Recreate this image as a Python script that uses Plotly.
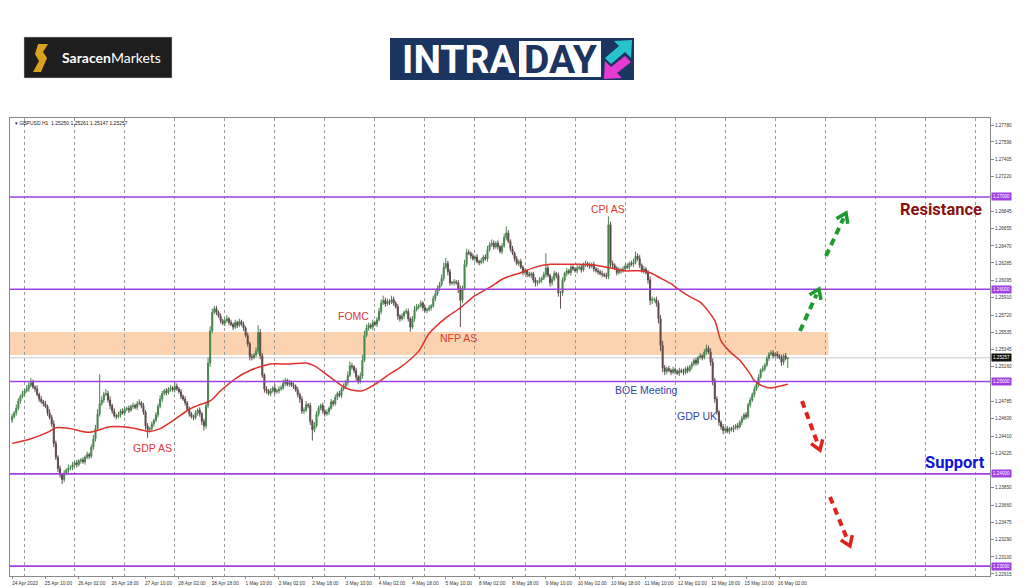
import math
import plotly.graph_objects as go

# ---------------- data ----------------
TIME_LABELS = ["24 Apr 2023", "25 Apr 10:00", "26 Apr 02:00", "26 Apr 18:00", "27 Apr 10:00",
               "28 Apr 02:00", "28 Apr 18:00", "1 May 10:00", "2 May 02:00", "2 May 18:00",
               "3 May 10:00", "4 May 02:00", "4 May 18:00", "5 May 10:00", "8 May 02:00",
               "8 May 18:00", "9 May 10:00", "10 May 02:00", "10 May 18:00", "11 May 10:00",
               "12 May 02:00", "12 May 18:00", "15 May 10:00", "16 May 02:00"]
LABEL_EVERY = 16      # bars between time labels
FIRST_MIDNIGHT = 6    # bar index of 25 Apr 00:00
BARS_PER_DAY = 24

FIRST_OPEN = 1.2458
CLOSE = [
    1.2462, 1.2466, 1.2471, 1.2479, 1.2484, 1.2487, 1.2490, 1.2492, 1.2496, 1.2499,
    1.2494, 1.2492, 1.2486, 1.2481, 1.2478, 1.2476, 1.2473, 1.2466, 1.2461, 1.2454,
    1.2433, 1.2418, 1.2406, 1.2399, 1.2394, 1.2401, 1.2404, 1.2406, 1.2407, 1.2410,
    1.2412, 1.2410, 1.2414, 1.2415, 1.2413, 1.2418, 1.2421, 1.2419, 1.2429, 1.2438,
    1.2449, 1.2465, 1.2476, 1.2480, 1.2486, 1.2487, 1.2480, 1.2474, 1.2468, 1.2463,
    1.2462, 1.2464, 1.2468, 1.2466, 1.2470, 1.2471, 1.2469, 1.2473, 1.2474, 1.2472,
    1.2476, 1.2477, 1.2474, 1.2467, 1.2452, 1.2448, 1.2449, 1.2454, 1.2458, 1.2464,
    1.2473, 1.2481, 1.2487, 1.2490, 1.2488, 1.2492, 1.2493, 1.2491, 1.2495, 1.2492,
    1.2489, 1.2484, 1.2481, 1.2477, 1.2470, 1.2465, 1.2462, 1.2461, 1.2466, 1.2469,
    1.2465, 1.2457, 1.2452, 1.2474, 1.2520, 1.2555, 1.2575, 1.2579, 1.2575, 1.2571,
    1.2566, 1.2563, 1.2566, 1.2568, 1.2564, 1.2562, 1.2559, 1.2564, 1.2561, 1.2565,
    1.2562, 1.2558, 1.2550, 1.2541, 1.2527, 1.2526, 1.2529, 1.2533, 1.2553, 1.2528,
    1.2507, 1.2492, 1.2490, 1.2487, 1.2490, 1.2493, 1.2489, 1.2490, 1.2492, 1.2493,
    1.2498, 1.2501, 1.2497, 1.2499, 1.2496, 1.2495, 1.2491, 1.2486, 1.2481, 1.2468,
    1.2469, 1.2475, 1.2474, 1.2457, 1.2448, 1.2452, 1.2465, 1.2471, 1.2474, 1.2468,
    1.2465, 1.2467, 1.2471, 1.2478, 1.2476, 1.2483, 1.2487, 1.2485, 1.2492, 1.2495,
    1.2499, 1.2507, 1.2517, 1.2516, 1.2512, 1.2505, 1.2500, 1.2506, 1.2523, 1.2550,
    1.2558, 1.2561, 1.2559, 1.2564, 1.2562, 1.2567, 1.2576, 1.2585, 1.2588, 1.2584,
    1.2587, 1.2586, 1.2589, 1.2585, 1.2581, 1.2571, 1.2568, 1.2571, 1.2575, 1.2576,
    1.2568, 1.2559, 1.2568, 1.2578, 1.2581, 1.2582, 1.2585, 1.2580, 1.2577, 1.2578,
    1.2580, 1.2582, 1.2590, 1.2595, 1.2601, 1.2605, 1.2612, 1.2624, 1.2628, 1.2619,
    1.2607, 1.2607, 1.2608, 1.2607, 1.2600, 1.2588, 1.2601, 1.2627, 1.2640, 1.2639,
    1.2636, 1.2633, 1.2635, 1.2630, 1.2629, 1.2631, 1.2635, 1.2633, 1.2643, 1.2648,
    1.2650, 1.2646, 1.2650, 1.2646, 1.2641, 1.2647, 1.2656, 1.2661, 1.2652, 1.2644,
    1.2639, 1.2633, 1.2628, 1.2630, 1.2624, 1.2618, 1.2620, 1.2616, 1.2615, 1.2617,
    1.2610, 1.2607, 1.2608, 1.2610, 1.2612, 1.2616, 1.2623, 1.2615, 1.2607, 1.2611,
    1.2617, 1.2615, 1.2596, 1.2596, 1.2610, 1.2617, 1.2620, 1.2618, 1.2624, 1.2622,
    1.2620, 1.2623, 1.2624, 1.2621, 1.2627, 1.2628, 1.2626, 1.2625, 1.2627, 1.2622,
    1.2620, 1.2619, 1.2617, 1.2616, 1.2615, 1.2614, 1.2670, 1.2628, 1.2626, 1.2623,
    1.2618, 1.2621, 1.2620, 1.2622, 1.2625, 1.2624, 1.2628, 1.2627, 1.2629, 1.2636,
    1.2633, 1.2626, 1.2620, 1.2622, 1.2618, 1.2610, 1.2588, 1.2589, 1.2589, 1.2585,
    1.2568, 1.2539, 1.2515, 1.2511, 1.2514, 1.2512, 1.2510, 1.2513, 1.2511, 1.2509,
    1.2512, 1.2511, 1.2510, 1.2514, 1.2512, 1.2516, 1.2519, 1.2523, 1.2520, 1.2526,
    1.2528, 1.2526, 1.2532, 1.2536, 1.2532, 1.2521, 1.2501, 1.2481, 1.2467, 1.2456,
    1.2451, 1.2447, 1.2449, 1.2446, 1.2449, 1.2448, 1.2450, 1.2452, 1.2451, 1.2456,
    1.2460, 1.2464, 1.2462, 1.2475, 1.2480, 1.2486, 1.2492, 1.2497, 1.2505, 1.2512,
    1.2514, 1.2518, 1.2525, 1.2530, 1.2531, 1.2528, 1.2530, 1.2528, 1.2526, 1.2521,
    1.2528, 1.2525, 1.25257,
]
# wick lengths beyond the candle body, in pips
UPPER_WICK = [
    3, 2, 4, 3, 2, 3, 2, 4, 3, 5,  3, 2, 4, 2, 3, 2, 3, 2, 4, 3,
    4, 3, 2, 3, 2, 3, 2, 4, 2, 3,  2, 3, 2, 2, 3, 2, 3, 2, 3, 4,
    4, 5, 32, 4, 3, 5, 3, 4, 2, 3,  2, 3, 2, 3, 2, 2, 3, 2, 3, 2,
    3, 4, 2, 3, 2, 3, 2, 3, 2, 3,  3, 4, 3, 2, 3, 2, 3, 2, 4, 3,
    2, 3, 2, 3, 2, 3, 2, 2, 3, 2,  3, 2, 3, 4, 6, 5, 4, 3, 3, 2,
    3, 2, 3, 4, 2, 3, 2, 3, 2, 3,  2, 3, 2, 3, 2, 3, 2, 4, 8, 4,
    3, 2, 3, 2, 3, 2, 4, 2, 3, 3,  4, 3, 2, 3, 2, 3, 2, 3, 2, 3,
    3, 4, 2, 3, 2, 4, 3, 3, 2, 3,  2, 3, 2, 3, 2, 3, 2, 3, 2, 3,
    3, 4, 5, 3, 2, 3, 2, 4, 6, 5,  4, 3, 2, 3, 2, 3, 4, 4, 5, 3,
    3, 2, 4, 3, 2, 3, 2, 3, 2, 3,  3, 2, 3, 4, 3, 2, 3, 2, 3, 2,
    3, 2, 3, 4, 3, 3, 4, 5, 6, 3,  3, 2, 3, 2, 3, 4, 3, 5, 4, 3,
    2, 3, 2, 3, 2, 3, 2, 3, 4, 3,  4, 3, 2, 3, 2, 3, 4, 7, 3, 2,
    3, 2, 3, 2, 3, 2, 3, 2, 3, 2,  2, 3, 2, 3, 2, 3, 16, 3, 2, 3,
    3, 2, 3, 2, 3, 2, 3, 2, 3, 2,  2, 3, 2, 3, 2, 3, 2, 3, 2, 3,
    2, 3, 2, 3, 2, 3, 9, 3, 3, 2,  2, 3, 2, 3, 2, 3, 2, 3, 4, 5,
    3, 4, 2, 3, 2, 3, 4, 3, 2, 3,  3, 4, 5, 3, 2, 3, 2, 3, 2, 2,
    3, 2, 3, 2, 3, 2, 3, 2, 3, 2,  3, 2, 3, 4, 3, 4, 4, 3, 3, 2,
    2, 3, 2, 3, 2, 2, 3, 2, 3, 2,  3, 2, 3, 2, 3, 2, 3, 2, 3, 2,
    3, 2, 3, 2, 3, 3, 2, 3, 2, 3,  2, 3, 0.4,
]
LOWER_WICK = [
    3, 2, 3, 2, 3, 2, 3, 2, 3, 2,  2, 3, 2, 3, 2, 3, 2, 3, 2, 3,
    4, 3, 4, 3, 5, 3, 2, 3, 2, 3,  2, 3, 2, 3, 2, 3, 2, 3, 2, 3,
    3, 2, 3, 2, 3, 2, 3, 4, 3, 2,  3, 2, 3, 2, 3, 2, 3, 2, 3, 2,
    3, 2, 3, 3, 4, 9, 3, 2, 3, 2,  3, 2, 3, 2, 3, 2, 3, 2, 3, 2,
    2, 3, 2, 3, 2, 3, 2, 3, 2, 3,  3, 4, 5, 3, 3, 4, 3, 2, 3, 2,
    3, 2, 3, 2, 3, 2, 3, 2, 3, 2,  2, 3, 2, 3, 4, 3, 2, 3, 3, 4,
    3, 4, 3, 2, 3, 2, 3, 2, 3, 2,  2, 3, 2, 3, 2, 3, 2, 3, 4, 3,
    3, 2, 3, 4, 12, 3, 2, 3, 2, 3,  3, 2, 3, 2, 3, 2, 3, 2, 3, 2,
    2, 3, 2, 3, 3, 4, 3, 2, 3, 2,  2, 3, 2, 3, 2, 3, 2, 3, 2, 3,
    2, 3, 2, 3, 2, 4, 3, 2, 3, 2,  3, 5, 2, 3, 2, 3, 2, 3, 2, 3,
    2, 3, 2, 3, 2, 3, 2, 3, 2, 4,  3, 2, 3, 2, 4, 29, 3, 2, 3, 2,
    3, 2, 3, 2, 3, 2, 3, 2, 3, 2,  2, 3, 2, 3, 2, 3, 2, 3, 2, 3,
    2, 3, 2, 3, 2, 3, 2, 3, 2, 3,  3, 4, 3, 2, 3, 2, 3, 2, 4, 3,
    2, 3, 4, 17, 3, 2, 3, 2, 3, 2,  2, 3, 2, 3, 2, 3, 2, 3, 2, 3,
    2, 3, 2, 3, 2, 3, 3, 4, 3, 2,  3, 2, 3, 2, 3, 2, 3, 2, 3, 2,
    2, 3, 2, 3, 2, 4, 5, 4, 3, 4,  5, 6, 5, 4, 3, 2, 3, 2, 3, 2,
    3, 2, 3, 2, 3, 2, 3, 2, 3, 2,  2, 3, 2, 3, 2, 4, 5, 4, 3, 4,
    3, 4, 3, 2, 3, 2, 3, 2, 3, 2,  3, 2, 3, 2, 3, 2, 3, 2, 3, 2,
    2, 3, 2, 3, 2, 3, 2, 3, 2, 4,  3, 2, 10.3,
]

MA_BAR = [0, 9, 18, 21, 28, 37, 47, 57, 66, 71, 78, 85, 90, 95, 100, 107, 114, 119, 124, 133,
          141, 145, 153, 160, 165, 168, 174, 181, 186, 195, 200, 208, 215, 222, 229, 236, 244,
          251, 258, 265, 272, 280, 287, 294, 301, 306, 311, 316, 319, 325, 330, 337, 340, 344,
          349, 354, 356, 360, 364, 368, 372]
MA_VAL = [1.2433, 1.2438, 1.2446, 1.2450, 1.2449, 1.2445, 1.2451, 1.2450, 1.2446, 1.2449,
          1.2459, 1.2470, 1.2475, 1.2479, 1.2490, 1.2503, 1.2512, 1.2516, 1.2519, 1.2519,
          1.2520, 1.2517, 1.2504, 1.2493, 1.2490, 1.2490, 1.2497, 1.2508, 1.2515, 1.2533,
          1.2552, 1.2569, 1.2580, 1.2593, 1.2602, 1.2612, 1.2618, 1.2624, 1.2627, 1.2627,
          1.2627, 1.2626, 1.2623, 1.2620, 1.2620, 1.2618, 1.2612, 1.2606, 1.2601, 1.2592,
          1.2586, 1.2566, 1.2544, 1.2533, 1.2523, 1.2508, 1.2501, 1.2495, 1.2493, 1.2495,
          1.2497]

# right-axis labels that stay visible (the rest sit under the level tags)
Y_TICKS = [1.27780, 1.27596, 1.27405, 1.27220, 1.26845, 1.26655, 1.26470, 1.26285,
           1.26095, 1.25910, 1.25720, 1.25535, 1.25345, 1.25160, 1.24785, 1.24600,
           1.24410, 1.24225, 1.23850, 1.23660, 1.23475, 1.23290, 1.23100, 1.22915]
LEVELS = [1.27, 1.26, 1.25, 1.24, 1.23]
ZONE = (1.25288, 1.25537)
LAST_PRICE = 1.25257
HEADER = "▾ GBPUSD,H1  1.25250 1.25261 1.25147 1.25257"

assert len(CLOSE) == len(UPPER_WICK) == len(LOWER_WICK)
n = len(CLOSE)
bars = list(range(n))
opens = [FIRST_OPEN] + CLOSE[:-1]
highs = [max(o, c) + u * 1e-4 for o, c, u in zip(opens, CLOSE, UPPER_WICK)]
lows = [min(o, c) - d * 1e-4 for o, c, d in zip(opens, CLOSE, LOWER_WICK)]

# ---------------- layout geometry ----------------
W, H = 1024, 587
PL, PR, PT, PB = 10, 990, 118, 576
X_RANGE = [-1.0, 469.0]
Y_RANGE = [1.22893, 1.27856]
SMALL = "Liberation Sans, Arial, sans-serif"


def pxx(x):
    return (x - PL) / (PR - PL)


def pxy(y):
    return (PB - y) / (PB - PT)


fig = go.Figure()

fig.add_trace(go.Candlestick(
    x=bars, open=opens, high=highs, low=lows, close=CLOSE,
    increasing=dict(line=dict(color="#4a8450", width=1), fillcolor="#2f8a3a"),
    decreasing=dict(line=dict(color="#5e4c4c", width=1), fillcolor="#4e2a2a"),
    whiskerwidth=0, showlegend=False, hoverinfo="skip",
))
fig.add_trace(go.Scatter(
    x=MA_BAR, y=MA_VAL, mode="lines",
    line=dict(color="#e0302c", width=1.5, shape="spline", smoothing=0.8),
    showlegend=False, hoverinfo="skip",
))

shapes = []
shapes.append(dict(type="rect", xref="x", yref="y", x0=X_RANGE[0], x1=391.5,
                   y0=ZONE[0], y1=ZONE[1], fillcolor="#fbd3b0", line=dict(width=0),
                   layer="below"))
shapes.append(dict(type="line", xref="paper", yref="y", x0=0, x1=1,
                   y0=LAST_PRICE, y1=LAST_PRICE, line=dict(color="#c8c8c8", width=1),
                   layer="below"))
for lv in LEVELS:
    shapes.append(dict(type="line", xref="paper", yref="y", x0=0, x1=1, y0=lv, y1=lv,
                       line=dict(color="#a040e0", width=1.6), layer="above"))


def dashed_arrow(tail, tip, color):
    x0, y0 = tail
    x1, y1 = tip
    dx, dy = x1 - x0, y1 - y0
    L = (dx * dx + dy * dy) ** 0.5
    ux, uy = dx / L, dy / L
    sx, sy = x1 - ux * 6, y1 - uy * 6
    shapes.append(dict(type="line", xref="paper", yref="paper",
                       x0=pxx(x0), y0=pxy(y0), x1=pxx(sx), y1=pxy(sy),
                       line=dict(color=color, width=4, dash="7px,5px")))
    arms = []
    for ang in (0.6, -0.6):
        bx = -ux * math.cos(ang) + uy * math.sin(ang)
        by = -uy * math.cos(ang) - ux * math.sin(ang)
        arms.append((x1 + bx * 11, y1 + by * 11))
    path = "M {:.4f},{:.4f} L {:.4f},{:.4f} L {:.4f},{:.4f}".format(
        pxx(arms[0][0]), pxy(arms[0][1]), pxx(x1), pxy(y1), pxx(arms[1][0]), pxy(arms[1][1]))
    shapes.append(dict(type="path", xref="paper", yref="paper", path=path,
                       line=dict(color=color, width=3.5)))


dashed_arrow((800, 331), (819, 289), "#1f9a2e")
dashed_arrow((826, 256), (846, 213), "#1f9a2e")
dashed_arrow((802, 401), (820, 450), "#e0221a")
dashed_arrow((830, 497), (850, 546), "#e0221a")

# ---- logos ----
shapes.append(dict(type="rect", xref="paper", yref="paper", x0=pxx(24), x1=pxx(172),
                   y0=pxy(78), y1=pxy(37), fillcolor="#1e1e1e", line=dict(color="#cfcfcf", width=0.5)))
shapes.append(dict(type="rect", xref="paper", yref="paper", x0=pxx(390), x1=pxx(634),
                   y0=pxy(80), y1=pxy(38), fillcolor="#1b3560", line=dict(width=0)))
shapes.append(dict(type="rect", xref="paper", yref="paper", x0=pxx(519), x1=pxx(601),
                   y0=pxy(77), y1=pxy(41), fillcolor="#ffffff", line=dict(width=0)))


def poly(points, color):
    p = "M " + " L ".join("{:.4f},{:.4f}".format(pxx(a), pxy(b)) for a, b in points) + " Z"
    shapes.append(dict(type="path", xref="paper", yref="paper", path=p,
                       fillcolor=color, line=dict(width=0)))


poly([(632, 40), (631, 58), (625, 52), (611, 64), (605, 58), (619, 46), (614, 41)], "#27c3cc")
poly([(604, 79), (605, 61), (611, 67), (625, 56), (631, 62), (617, 73), (622, 78)], "#e43bd3")
# Saracen "S" mark
poly([(38, 44), (48, 44), (43, 52), (47, 58), (41, 72), (33, 72), (39, 61), (35, 54)], "#d8a21d")

ann = []


def text(x, y, s, size, color, bold=False, family=SMALL, xanchor="center"):
    ann.append(dict(xref="paper", yref="paper", x=pxx(x), y=pxy(y),
                    text=("<b>%s</b>" % s) if bold else s,
                    showarrow=False, xanchor=xanchor, yanchor="middle",
                    font=dict(size=size, color=color, family=family)))


text(13, 123, HEADER, 5, "#222222", xanchor="left")
text(608, 209, "CPI AS", 10.5, "#e0362e")
text(353, 316, "FOMC", 10.5, "#e0362e")
text(458, 338, "NFP AS", 10.5, "#e0362e")
text(152, 448, "GDP AS", 10.5, "#e0362e")
text(646, 390, "BOE Meeting", 10.5, "#3345a8")
text(697, 416, "GDP UK", 10.5, "#3345a8")
text(941, 209, "Resistance", 16.5, "#8a1010", bold=True, family="Roboto, sans-serif")
text(955, 462, "Support", 16.5, "#1212d8", bold=True, family="Roboto, sans-serif")

ann.append(dict(xref="paper", yref="paper", x=pxx(60), y=pxy(58), xanchor="left", yanchor="middle",
                text="<b>Saracen</b>Markets", showarrow=False,
                font=dict(size=14, color="#ffffff", family="Lato, sans-serif")))
text(459, 60, "INTRA", 39, "#ffffff", bold=True, family="Roboto, sans-serif")
text(561, 60, "DAY", 39, "#1b3560", bold=True, family="Roboto, sans-serif")

for lv in LEVELS:
    ann.append(dict(xref="paper", yref="y", x=pxx(991), y=lv, xanchor="left", yanchor="middle",
                    text="%.5f" % lv, showarrow=False, bgcolor="#a040e0", borderpad=1,
                    font=dict(size=4.6, color="#ffffff", family=SMALL)))
ann.append(dict(xref="paper", yref="y", x=pxx(991), y=LAST_PRICE, xanchor="left", yanchor="middle",
                text="%.5f" % LAST_PRICE, showarrow=False, bgcolor="#111111", borderpad=1,
                font=dict(size=4.6, color="#ffffff", family=SMALL)))

fig.update_layout(
    width=W, height=H,
    margin=dict(l=PL, r=W - PR, t=PT, b=H - PB, pad=0, autoexpand=False),
    paper_bgcolor="#ffffff", plot_bgcolor="#ffffff",
    shapes=shapes, annotations=ann,
    xaxis=dict(
        range=X_RANGE, showgrid=False, zeroline=False, automargin=False,
        tickvals=[i * LABEL_EVERY for i in range(len(TIME_LABELS))], ticktext=TIME_LABELS,
        tickangle=0,
        tickfont=dict(size=4.8, color="#333333", family=SMALL),
        ticks="outside", ticklen=2, tickcolor="#888888", ticklabelshift=13,
        showline=True, linecolor="#8a8a8a", linewidth=1, mirror=True,
        rangeslider=dict(visible=False),
        minor=dict(tick0=FIRST_MIDNIGHT, dtick=BARS_PER_DAY, showgrid=True,
                   gridcolor="#9a9a9a", griddash="dot", gridwidth=1, ticks=""),
    ),
    yaxis=dict(
        range=Y_RANGE, side="right", showgrid=False, zeroline=False, automargin=False,
        tickvals=Y_TICKS, ticktext=["%.5f" % v for v in Y_TICKS],
        tickfont=dict(size=4.6, color="#333333", family=SMALL),
        ticks="outside", ticklen=3, tickcolor="#888888",
        showline=True, linecolor="#8a8a8a", linewidth=1, mirror=True,
    ),
)

fig.write_html("out.html", config={"displayModeBar": False},
               post_script="document.body.style.margin='0';document.body.style.overflow='hidden';")
